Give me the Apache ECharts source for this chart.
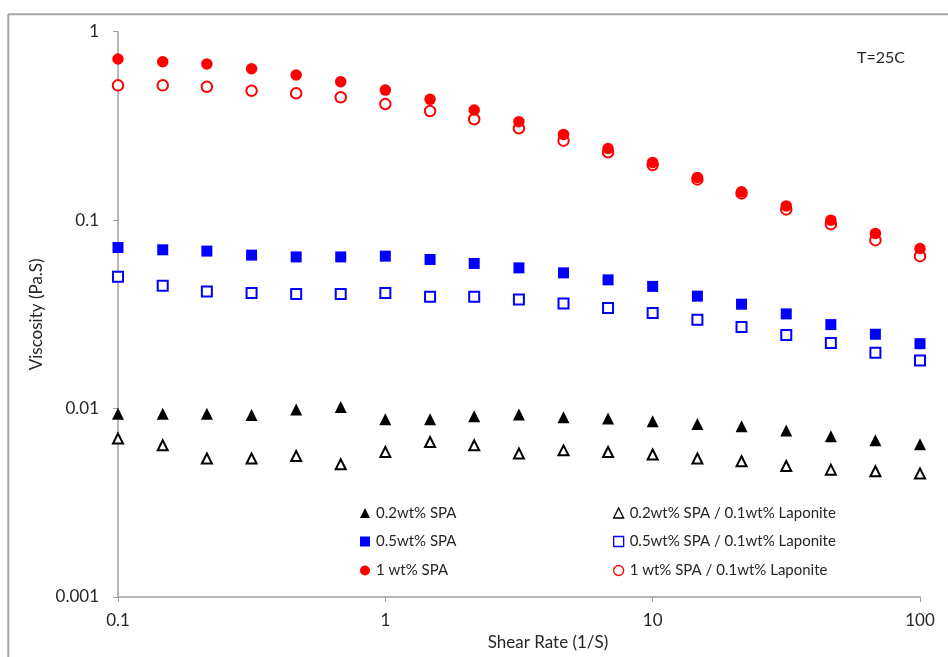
<!DOCTYPE html>
<html>
<head>
<meta charset="utf-8">
<title>Viscosity vs Shear Rate</title>
<script src="https://cdn.jsdelivr.net/npm/echarts@6/dist/echarts.min.js"></script>
<style>
  html, body { margin: 0; padding: 0; background: #fff; }
  #chart { width: 948px; height: 657px; }
</style>
</head>
<body>
<div id="chart"></div>
<script>
// Shear rates (1/s), six points per decade
const shearRate = [0.1, 0.147, 0.215, 0.316, 0.464, 0.681, 1, 1.47, 2.15, 3.16, 4.64, 6.81, 10, 14.7, 21.5, 31.6, 46.4, 68.1, 100];

// Viscosity (Pa.s) for each formulation
const spa02 = [0.0094, 0.0094, 0.0094, 0.00925, 0.0099, 0.0102, 0.00877, 0.00877, 0.0091, 0.0093, 0.0090, 0.00885, 0.00856, 0.00828, 0.00805, 0.00764, 0.00713, 0.00679, 0.00646];
const spa02Lap = [0.00693, 0.00638, 0.00543, 0.00543, 0.0056, 0.00506, 0.00588, 0.00665, 0.00638, 0.00577, 0.0060, 0.00588, 0.0057, 0.00543, 0.00525, 0.00496, 0.00474, 0.00465, 0.00452];
const spa05 = [0.0716, 0.0696, 0.0685, 0.0652, 0.0638, 0.0638, 0.0644, 0.0618, 0.0589, 0.0558, 0.0525, 0.0482, 0.0445, 0.0395, 0.0358, 0.0318, 0.0279, 0.0248, 0.0221];
const spa05Lap = [0.0500, 0.0448, 0.0418, 0.0411, 0.0405, 0.0405, 0.0411, 0.0392, 0.0392, 0.0379, 0.0361, 0.0342, 0.0321, 0.0296, 0.0271, 0.0246, 0.0223, 0.0198, 0.0180];
const spa1 = [0.716, 0.693, 0.674, 0.636, 0.589, 0.543, 0.490, 0.4375, 0.384, 0.333, 0.285, 0.240, 0.2025, 0.1686, 0.1413, 0.119, 0.100, 0.085, 0.0707];
const spa1Lap = [0.519, 0.519, 0.510, 0.486, 0.471, 0.449, 0.413, 0.379, 0.343, 0.307, 0.264, 0.229, 0.196, 0.1644, 0.1386, 0.114, 0.0952, 0.0783, 0.0644];

// Tick labels, indexed by decade exponent
const xTickLabels = ['0.1', '1', '10', '100'];   // 10^-1 .. 10^2
const yTickLabels = ['0.001', '0.01', '0.1', '1']; // 10^-3 .. 10^0

const seriesNames = [
  '0.2wt% SPA', '0.2wt% SPA / 0.1wt% Laponite',
  '0.5wt% SPA', '0.5wt% SPA / 0.1wt% Laponite',
  '1 wt% SPA', '1 wt% SPA / 0.1wt% Laponite'
];

const FONT = 'Lato';
const TEXT = '#262626';

function pairs(ys) { return shearRate.map((x, i) => [x, ys[i]]); }

function filled(name, ys, symbol, color, size) {
  return {
    name, type: 'scatter', data: pairs(ys), symbol, symbolSize: size,
    itemStyle: { color: color, opacity: 1 }, z: 3, silent: true
  };
}
function open(name, ys, symbol, color, size) {
  return {
    name, type: 'scatter', data: pairs(ys), symbol, symbolSize: size,
    itemStyle: { color: '#fff', borderColor: color, borderWidth: 2, opacity: 1 }, z: 2, silent: true
  };
}

// one legend block per entry, laid out in a 3 x 2 table
function legendAt(name, left, top, openIcon) {
  return {
    data: [{ name: name, itemStyle: openIcon ? { borderWidth: 1.3 } : {} }],
    left: left, top: top, padding: 0, itemWidth: 10, itemHeight: 10, itemGap: 0,
    textStyle: { fontFamily: FONT, fontSize: 15, color: TEXT, padding: [0, 0, 0, 1] },
    selectedMode: false
  };
}

const chart = echarts.init(document.getElementById('chart'), null, { renderer: 'canvas' });

chart.setOption({
  animation: false,
  backgroundColor: '#fff',
  grid: { left: 118, right: 28, top: 31.7, bottom: 60, containLabel: false },
  xAxis: {
    type: 'log', logBase: 10, min: 0.1, max: 100,
    name: 'Shear Rate (1/S)', nameLocation: 'middle', nameGap: 30,
    nameTextStyle: { fontFamily: FONT, fontSize: 17, color: TEXT, padding: [0, 0, 0, 58] },
    axisLine: { lineStyle: { color: '#A0A0A0', width: 1.5 } },
    axisTick: { show: true, length: 5, lineStyle: { color: '#A0A0A0' } },
    minorTick: { show: false },
    splitLine: { show: false },
    axisLabel: {
      fontFamily: FONT, fontSize: 17, color: TEXT, margin: 15,
      formatter: v => xTickLabels[Math.round(Math.log10(v)) + 1]
    }
  },
  yAxis: {
    type: 'log', logBase: 10, min: 0.001, max: 1,
    name: 'Viscosity (Pa.S)', nameLocation: 'middle', nameGap: 66, nameRotate: 90,
    nameTextStyle: { fontFamily: FONT, fontSize: 17, color: TEXT },
    axisLine: { lineStyle: { color: '#A0A0A0', width: 1.5 } },
    axisTick: { show: true, length: 5, lineStyle: { color: '#A0A0A0' } },
    splitLine: { show: false },
    axisLabel: {
      fontFamily: FONT, fontSize: 17, color: TEXT, margin: 19,
      formatter: v => yTickLabels[Math.round(Math.log10(v)) + 3]
    }
  },
  legend: [
    legendAt(seriesNames[0], 360, 505.5, false),
    legendAt(seriesNames[1], 613, 505.5, true),
    legendAt(seriesNames[2], 360, 534, false),
    legendAt(seriesNames[3], 613, 534, true),
    legendAt(seriesNames[4], 360, 563, false),
    legendAt(seriesNames[5], 613, 563, true)
  ],
  graphic: [
    { type: 'line', shape: { x1: 8, y1: 14.3, x2: 948, y2: 14.3 }, style: { stroke: '#A6A6A6', lineWidth: 2 } },
    { type: 'line', shape: { x1: 8.3, y1: 14.3, x2: 8.3, y2: 657 }, style: { stroke: '#A6A6A6', lineWidth: 2 } },
    { type: 'text', left: 857, top: 50, style: { text: 'T=25C', fontFamily: FONT, fontSize: 16, fill: TEXT } }
  ],
  series: [
    open(seriesNames[1], spa02Lap, 'triangle', '#000', 10),
    open(seriesNames[3], spa05Lap, 'rect', '#0000FF', 10),
    open(seriesNames[5], spa1Lap, 'circle', '#FF0000', 10.5),
    filled(seriesNames[0], spa02, 'triangle', '#000', 12),
    filled(seriesNames[2], spa05, 'rect', '#0000FF', 11),
    filled(seriesNames[4], spa1, 'circle', '#FF0000', 11.5)
  ]
});
</script>
</body>
</html>
